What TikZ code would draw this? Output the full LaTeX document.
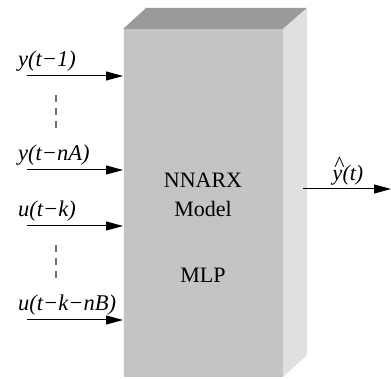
\documentclass[tikz,border=0pt]{standalone}
\usepackage{fontspec}
\setmainfont{Liberation Serif}
\usetikzlibrary{arrows.meta}
\definecolor{frontgray}{HTML}{C4C4C4}
\definecolor{topgray}{HTML}{9A9A9A}
\definecolor{sidegray}{HTML}{E0E0E0}
\definecolor{dashgray}{HTML}{707070}
\tikzset{
  inarrow/.style={line width=1pt,-{Triangle[length=17pt,width=9pt]}},
  siglabel/.style={anchor=base west,inner sep=0pt,font=\fontsize{22.5}{26}\selectfont\itshape},
  boxtext/.style={anchor=base,inner sep=0pt,font=\fontsize{22}{26}\selectfont},
  dotsline/.style={line width=1.5pt,dashgray,dash pattern=on 7pt off 6pt}
}
\begin{document}
\begin{tikzpicture}[x=1pt,y=-1pt]
\useasboundingbox (0,0) rectangle (391,379);
% block
\fill[topgray] (123,29) -- (146,8) -- (307,8) -- (283,29) -- cycle;
\fill[sidegray] (283,29) -- (307,8) -- (307,355) -- (283,377) -- cycle;
\node[fill=frontgray,draw=none,inner sep=0pt,minimum width=160pt,minimum height=348pt,anchor=north west] (box) at (123,29) {};
\draw[line width=0.8pt,white!85!frontgray] (box.north west) -- (box.south west);
% text in block
\node[boxtext] (t1) at (203,188) {NNARX};
\node[boxtext] (t2) at (203,217) {Model};
\node[boxtext] (t3) at (203,283) {MLP};
% inputs
\coordinate (s1) at (27,76);
\coordinate (s2) at (27,170);
\coordinate (s3) at (27,226);
\coordinate (s4) at (27,320);
\draw[inarrow] (s1) -- (s1 -| box.west);
\draw[inarrow] (s2) -- (s2 -| box.west);
\draw[inarrow] (s3) -- (s3 -| box.west);
\draw[inarrow] (s4) -- (s4 -| box.west);
\node[siglabel] (l1) at (18,67) {y(t−1)};
\node[siglabel] (l2) at (18,161) {y(t−nA)};
\node[siglabel] (l3) at (18,217) {u(t−k)};
\node[siglabel] (l4) at (18,311) {u(t−k−nB)};
% dashed continuation
\coordinate (d1a) at (56,95);
\coordinate (d1b) at (56,133);
\coordinate (d2a) at (56,245);
\coordinate (d2b) at (56,283);
\draw[dotsline] (d1a) -- (d1b);
\draw[dotsline] (d2a) -- (d2b);
% output
\coordinate (o1) at (303,189);
\coordinate (o2) at (391,189);
\draw[inarrow] (o1) -- (o2);
\node[anchor=base,inner sep=0pt,font=\fontsize{22}{26}\selectfont\itshape] (lo) at (348,181) {\makebox[0pt][l]{\hspace{0.08em}\raisebox{0.42em}{\normalfont\^{}}}y(t)};
\end{tikzpicture}
\end{document}
